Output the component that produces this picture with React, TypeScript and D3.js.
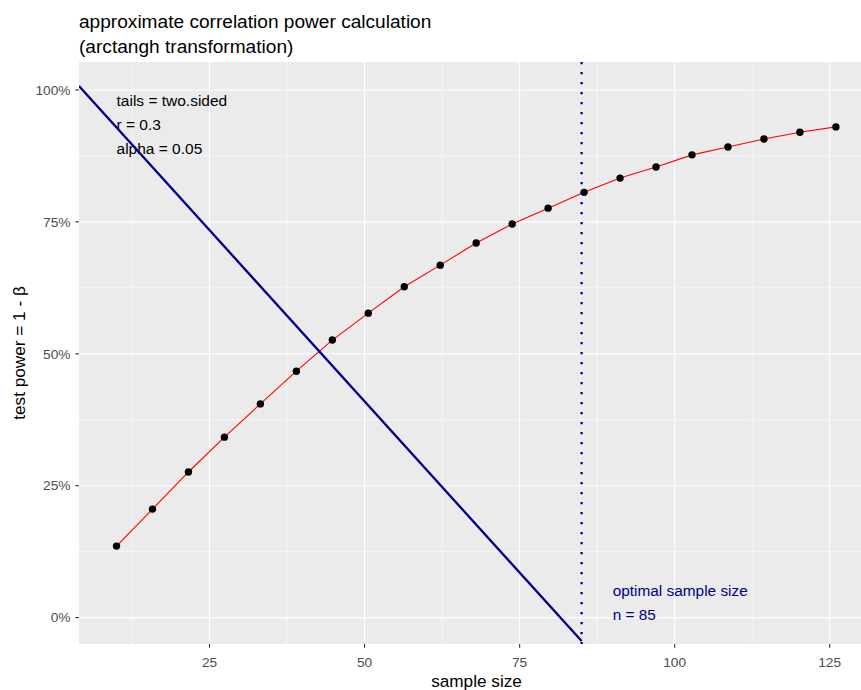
import React from "react";
import * as d3 from "d3";

const sampleSizes = [10, 15.8, 21.6, 27.4, 33.2, 39, 44.8, 50.6, 56.4, 62.2, 68, 73.8, 79.6, 85.4, 91.2, 97, 102.8, 108.6, 114.4, 120.2, 126];
const powerValues = [0.1355, 0.2057, 0.276, 0.342, 0.405, 0.467, 0.526, 0.577, 0.627, 0.668, 0.71, 0.746, 0.776, 0.806, 0.833, 0.854, 0.877, 0.892, 0.907, 0.92, 0.93];
const costLineN = [3.95, 85];
const costLineP = [1.0076, -0.0445];
const optimalN = 85;
const xTicks = [25, 50, 75, 100, 125];
const xMinor = [12.5, 37.5, 62.5, 87.5, 112.5];
const yTicks = [0, 0.25, 0.5, 0.75, 1];
const yMinor = [0.125, 0.375, 0.625, 0.875];
const yTickLabels = ["0%", "25%", "50%", "75%", "100%"];
const infoLines = ["tails = two.sided", "r = 0.3", "alpha = 0.05"];
const optimalLines = ["optimal sample size", "n = 85"];
const titleLines = ["approximate correlation power calculation", "(arctangh transformation)"];

const W = 861, H = 690;
const PL = 79, PR = 861, PT = 62, PB = 644;
const FONT = "'Liberation Sans', Arial, Helvetica, sans-serif";

export default function App() {
  const x = d3.scaleLinear().domain([3.95, 130.05]).range([PL, PR]);
  const y = d3.scaleLinear().domain([-0.05, 1.053]).range([PB, PT]);
  const pts = sampleSizes.map((n, i) => [n, powerValues[i]] as [number, number]);
  const line = d3.line<[number, number]>().x(d => x(d[0])).y(d => y(d[1]));
  const costPts = costLineN.map((n, i) => [n, costLineP[i]] as [number, number]);

  return (
    <svg width={W} height={H} style={{ position: "absolute", left: 0, top: 0, background: "#fff" }} fontFamily={FONT}>
      <defs>
        <clipPath id="panel"><rect x={PL} y={PT} width={PR - PL} height={PB - PT} /></clipPath>
      </defs>
      <rect x={PL} y={PT} width={PR - PL} height={PB - PT} fill="#EBEBEB" />
      {xMinor.map(v => <line key={"xm" + v} x1={x(v)} x2={x(v)} y1={PT} y2={PB} stroke="#fff" strokeWidth={0.55} />)}
      {yMinor.map(v => <line key={"ym" + v} y1={y(v)} y2={y(v)} x1={PL} x2={PR} stroke="#fff" strokeWidth={0.55} />)}
      {xTicks.map(v => <line key={"xg" + v} x1={x(v)} x2={x(v)} y1={PT} y2={PB} stroke="#fff" strokeWidth={1.1} />)}
      {yTicks.map(v => <line key={"yg" + v} y1={y(v)} y2={y(v)} x1={PL} x2={PR} stroke="#fff" strokeWidth={1.1} />)}
      <g clipPath="url(#panel)">
        <path d={line(pts) || ""} fill="none" stroke="red" strokeWidth={1.1} />
        {pts.map((p, i) => <circle key={i} cx={x(p[0])} cy={y(p[1])} r={3.7} fill="#000" />)}
        {infoLines.map((t, i) => (
          <text key={t} x={x(10)} y={105.5 + i * 24} fontSize={15.5} fill="#000">{t}</text>
        ))}
        <path d={line(costPts) || ""} fill="none" stroke="#00008B" strokeWidth={2.3} />
        <line x1={x(optimalN)} x2={x(optimalN)} y1={PT} y2={PB} stroke="#00008B" strokeWidth={2.3} strokeDasharray="2.3 7.7" />
        {optimalLines.map((t, i) => (
          <text key={t} x={x(90)} y={595.5 + i * 24} fontSize={15.4} fill="#00008B">{t}</text>
        ))}
      </g>
      {xTicks.map(v => (
        <g key={"xt" + v}>
          <line x1={x(v)} x2={x(v)} y1={PB} y2={PB + 3.7} stroke="#333" strokeWidth={1.1} />
          <text x={x(v)} y={667} textAnchor="middle" fontSize={13.7} fill="#4D4D4D">{v}</text>
        </g>
      ))}
      {yTicks.map((v, i) => (
        <g key={"yt" + v}>
          <line x1={PL - 3.7} x2={PL} y1={y(v)} y2={y(v)} stroke="#333" strokeWidth={1.1} />
          <text x={PL - 8.5} y={y(v)} dy="0.35em" textAnchor="end" fontSize={13.7} fill="#4D4D4D">{yTickLabels[i]}</text>
        </g>
      ))}
      {titleLines.map((t, i) => (
        <text key={t} x={PL} y={28.3 + i * 25} fontSize={19.1} fill="#000">{t}</text>
      ))}
      <text x={476.5} y={687} textAnchor="middle" fontSize={17.2} fill="#000">sample size</text>
      <text transform={`translate(24.5, ${(PT + PB) / 2}) rotate(-90)`} textAnchor="middle" fontSize={17.2} fill="#000">test power = 1 - β</text>
    </svg>
  );
}
